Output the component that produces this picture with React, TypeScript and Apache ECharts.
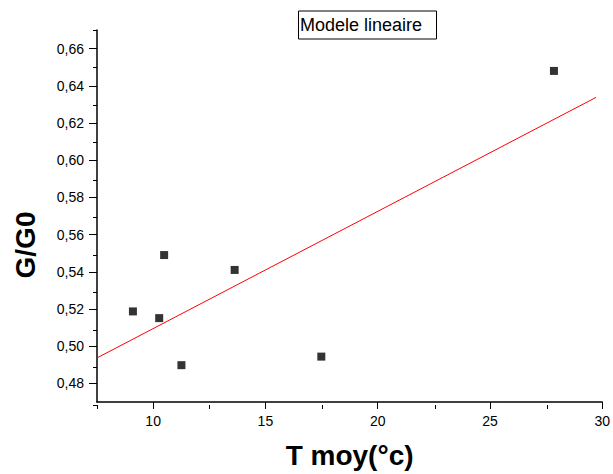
import React, { useEffect, useRef } from "react";
import * as echarts from "echarts";

// Measured points: mean temperature vs. G/G0
const tempMoy = [9.1, 10.27, 10.49, 11.26, 13.63, 17.49, 27.85];
const ratioG = [0.5187, 0.5151, 0.549, 0.4898, 0.541, 0.4944, 0.648];

// Linear model drawn as a segment between its two ends
const fitX = [7.5, 29.73];
const fitY = [0.4937, 0.6338];

// Axis ranges and tick positions
const xRange = [7.5, 30];
const yRange = [0.47, 0.67];
const xMajorTicks = [10, 15, 20, 25, 30];
const xMinorTicks = [7.5, 12.5, 17.5, 22.5, 27.5];
const yMajorTicks = [0.48, 0.5, 0.52, 0.54, 0.56, 0.58, 0.6, 0.62, 0.64, 0.66];
const yMinorTicks = [0.47, 0.49, 0.51, 0.53, 0.55, 0.57, 0.59, 0.61, 0.63, 0.65, 0.67];

const FONT = "'Liberation Sans', Arial, sans-serif";
const GRID = { left: 97, top: 30, width: 507, height: 375 };

export default function App() {
  const ref = useRef<HTMLDivElement>(null);

  useEffect(() => {
    if (!ref.current) return;
    const chart = echarts.init(ref.current, undefined, { renderer: "svg" });

    const scatterData = tempMoy.map((x, i) => [x, ratioG[i]]);
    const fitData = fitX.map((x, i) => [x, fitY[i]]);

    chart.setOption({
      animation: false,
      backgroundColor: "#ffffff",
      grid: [
        { ...GRID, containLabel: false },
        { ...GRID, containLabel: false },
      ],
      xAxis: [
        {
          type: "value",
          gridIndex: 0,
          min: xRange[0],
          max: xRange[1],
          name: "T moy(°c)",
          nameLocation: "middle",
          nameGap: 39,
          nameTextStyle: { fontFamily: FONT, fontSize: 28, fontWeight: "bold", color: "#000" },
          axisLine: { show: true, lineStyle: { color: "#000", width: 1.5 } },
          axisTick: {
            show: true,
            inside: false,
            length: 7,
            customValues: xMajorTicks,
            lineStyle: { color: "#000", width: 1 },
          },
          axisLabel: {
            customValues: xMajorTicks,
            margin: 12,
            fontFamily: FONT,
            fontSize: 14,
            color: "#000",
          },
          splitLine: { show: false },
        },
        {
          type: "value",
          gridIndex: 1,
          min: xRange[0],
          max: xRange[1],
          axisLine: { show: false },
          axisTick: {
            show: true,
            inside: false,
            length: 4,
            customValues: xMinorTicks,
            lineStyle: { color: "#000", width: 1 },
          },
          axisLabel: { show: false },
          splitLine: { show: false },
        },
      ],
      yAxis: [
        {
          type: "value",
          gridIndex: 0,
          min: yRange[0],
          max: yRange[1],
          axisLine: { show: true, lineStyle: { color: "#000", width: 1.5 } },
          axisTick: {
            show: true,
            inside: false,
            length: 8,
            customValues: yMajorTicks,
            lineStyle: { color: "#000", width: 1 },
          },
          axisLabel: {
            customValues: yMajorTicks,
            margin: 13,
            fontFamily: FONT,
            fontSize: 14,
            color: "#000",
            formatter: (v: number) => v.toFixed(2).replace(".", ","),
          },
          splitLine: { show: false },
        },
        {
          type: "value",
          gridIndex: 1,
          min: yRange[0],
          max: yRange[1],
          axisLine: { show: false },
          axisTick: {
            show: true,
            inside: false,
            length: 4,
            customValues: yMinorTicks,
            lineStyle: { color: "#000", width: 1 },
          },
          axisLabel: { show: false },
          splitLine: { show: false },
        },
      ],
      series: [
        {
          type: "line",
          xAxisIndex: 0,
          yAxisIndex: 0,
          data: fitData,
          symbol: "none",
          silent: true,
          lineStyle: { color: "#ff0000", width: 1 },
          z: 2,
        },
        {
          type: "scatter",
          xAxisIndex: 0,
          yAxisIndex: 0,
          data: scatterData,
          symbol: "rect",
          symbolSize: 8,
          itemStyle: { color: "#000" },
          z: 3,
        },
      ],
      graphic: [
        {
          type: "rect",
          shape: { x: 298.5, y: 11, width: 138, height: 28 },
          style: { fill: "#fff", stroke: "#000", lineWidth: 1 },
          z: 10,
        },
        {
          type: "text",
          x: 300,
          y: 24.5,
          style: {
            text: "Modele lineaire",
            font: `18px ${FONT}`,
            fill: "#000",
            align: "left",
            verticalAlign: "middle",
          },
          z: 11,
        },
        {
          type: "text",
          x: 25,
          y: 245,
          rotation: Math.PI / 2,
          style: {
            text: "G/G0",
            font: `bold 28px ${FONT}`,
            fill: "#000",
            align: "center",
            verticalAlign: "middle",
          },
          z: 11,
        },
      ],
    });

    return () => chart.dispose();
  }, []);

  return (
    <div
      ref={ref}
      style={{ position: "fixed", left: 0, top: 0, width: 613, height: 474, background: "#fff" }}
    />
  );
}
